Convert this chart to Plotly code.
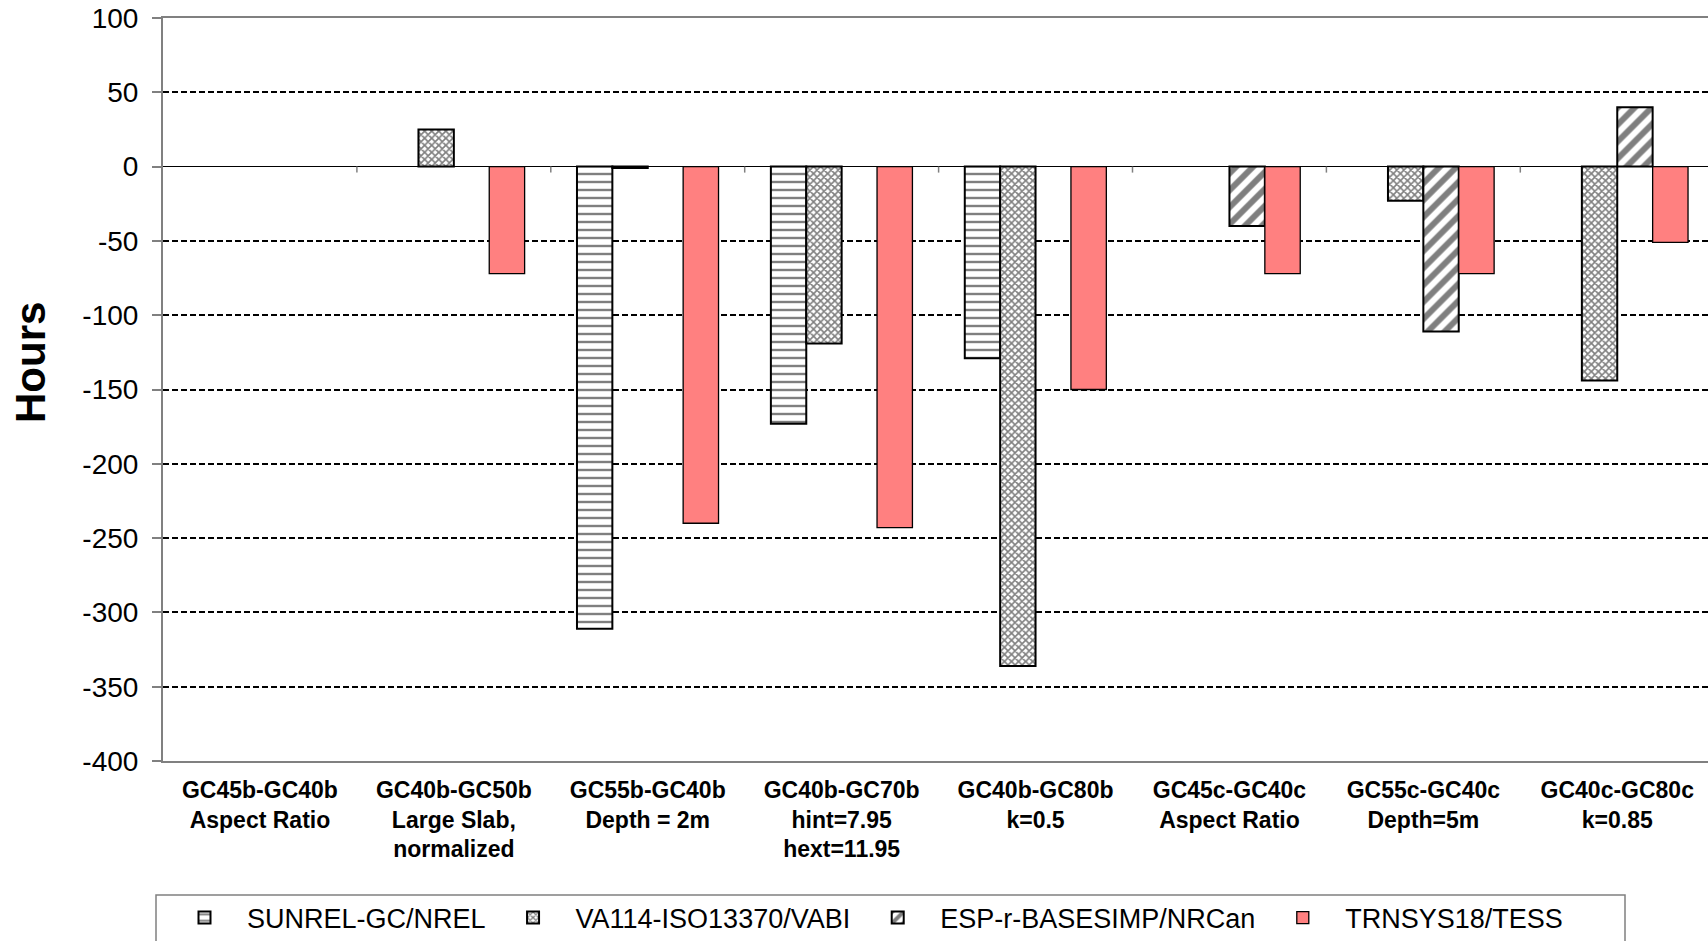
import plotly.graph_objects as go

categories = [
    "GC45b-GC40b<br>Aspect Ratio",
    "GC40b-GC50b<br>Large Slab,<br>normalized",
    "GC55b-GC40b<br>Depth = 2m",
    "GC40b-GC70b<br>hint=7.95<br>hext=11.95",
    "GC40b-GC80b<br>k=0.5",
    "GC45c-GC40c<br>Aspect Ratio",
    "GC55c-GC40c<br>Depth=5m",
    "GC40c-GC80c<br>k=0.85",
]
series_names = ["SUNREL-GC/NREL", "VA114-ISO13370/VABI", "ESP-r-BASESIMP/NRCan", "TRNSYS18/TESS"]
sunrel = [None, None, -311, -173, -129, None, None, None]
va114 = [None, 25, -1, -119, -336, None, -23, -144]
esp = [None, None, None, None, None, -40, -111, 40]
trnsys = [None, -72, -240, -243, -150, -72, -72, -51]
y_ticks = [100, 50, 0, -50, -100, -150, -200, -250, -300, -350, -400]

FONT = "Liberation Sans, Arial, sans-serif"
idx = list(range(len(categories)))

fig = go.Figure()
styles = [
    dict(color="white", pattern=dict(shape="-", fgcolor="black", bgcolor="white", size=8, solidity=0.3), line=dict(color="black", width=2)),
    dict(color="white", pattern=dict(shape="x", fgcolor="black", bgcolor="white", size=5, solidity=0.55), line=dict(color="black", width=2)),
    dict(color="white", pattern=dict(shape="/", fgcolor="black", bgcolor="white", size=12, solidity=0.5), line=dict(color="black", width=2)),
    dict(color="#FF8080", line=dict(color="black", width=1.3)),
]
for name, vals, st in zip(series_names, [sunrel, va114, esp, trnsys], styles):
    fig.add_trace(go.Bar(x=idx, y=vals, name=name, marker=st))

# category boundary tick marks on the zero line
shapes = []
for i in range(len(categories) - 1):
    shapes.append(dict(type="line", xref="x", yref="y", x0=i + 0.5, x1=i + 0.5,
                       ysizemode="pixel", yanchor=0, y0=0, y1=-6,
                       line=dict(color="#808080", width=1.5)))
# legend frame
shapes.append(dict(type="rect", xref="paper", yref="paper",
                   x0=(156 - 163) / 1545, x1=(1625 - 163) / 1545,
                   y0=(761 - 895) / 743, y1=(761 - 960) / 743,
                   line=dict(color="#808080", width=1.5), fillcolor="rgba(0,0,0,0)"))

fig.update_layout(
    width=1708, height=941,
    margin=dict(l=163, r=0, t=18, b=180, autoexpand=False),
    paper_bgcolor="white", plot_bgcolor="white",
    barmode="group", bargap=0.27, bargroupgap=0,
    font=dict(family=FONT, color="black"),
    shapes=shapes,
    showlegend=True,
    legend=dict(orientation="h", x=(162 - 163) / 1545, xanchor="left",
                y=(761 - 918) / 743, yanchor="middle",
                font=dict(size=27, family=FONT), itemwidth=75,
                bgcolor="rgba(0,0,0,0)", borderwidth=0),
    annotations=[dict(text="<b>Hours</b>", xref="paper", yref="paper",
                      x=(30 - 163) / 1545, y=(761 - 363) / 743, textangle=-90,
                      xanchor="center", yanchor="middle",
                      showarrow=False, font=dict(size=42, family=FONT))],
)
fig.update_xaxes(
    range=[-0.5, 7.468], tickmode="array", tickvals=idx, automargin=False,
    ticktext=["<b>" + c.replace("<br>", "</b><br><b>") + "</b>" for c in categories],
    tickfont=dict(size=23, family=FONT), ticks="", ticklabelstandoff=7,
    showline=True, linecolor="#808080", linewidth=2, mirror=True, showgrid=False, zeroline=False,
)
fig.update_yaxes(
    range=[-400, 100], tickmode="array", tickvals=y_ticks, automargin=False,
    ticktext=[str(v) for v in y_ticks],
    tickfont=dict(size=28, family=FONT), ticks="outside", ticklen=9, tickcolor="#808080", tickwidth=1.5,
    ticklabelstandoff=8,
    showline=True, linecolor="#808080", linewidth=2,
    showgrid=True, gridcolor="black", gridwidth=2, griddash="6px,3px",
    zeroline=True, zerolinecolor="black", zerolinewidth=1,
)
fig.write_html("out.html", config={"displayModeBar": False},
               post_script="document.body.style.margin='0';document.body.style.overflow='hidden';")
